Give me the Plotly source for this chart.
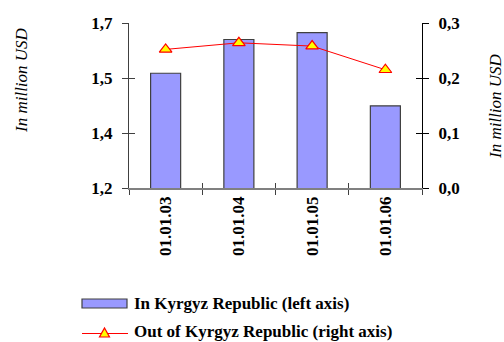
import plotly.graph_objects as go

# Data
dates = ["01.01.03", "01.01.04", "01.01.05", "01.01.06"]
in_kyrgyz = [1.513, 1.605, 1.624, 1.424]      # left axis, million USD
out_kyrgyz = [0.252, 0.264, 0.258, 0.215]     # right axis, million USD

left_ticks = [1.2, 1.35, 1.5, 1.65]
left_ticktext = ["1,2", "1,4", "1,5", "1,7"]
right_ticks = [0.0, 0.1, 0.2, 0.3]
right_ticktext = ["0,0", "0,1", "0,2", "0,3"]

W, H = 504, 342
L, R, T, B = 129, 82, 23, 154
PW, PH = W - L - R, H - T - B

FONT = "Liberation Serif"
FS = 17
BOLD = dict(family=FONT, size=FS, color="black", weight="bold")
BAR_COLOR = "#9999FF"
EDGE = "#404040"


def px(x):
    return (x - L) / PW


def py(y):
    return (H - B - y) / PH


fig = go.Figure()

fig.add_trace(go.Bar(
    x=dates, y=in_kyrgyz, name="In Kyrgyz Republic (left axis)",
    marker=dict(color=BAR_COLOR, line=dict(color=EDGE, width=1.2)),
    width=0.41, yaxis="y", xaxis="x",
))
fig.add_trace(go.Scatter(
    x=dates, y=out_kyrgyz, name="Out of Kyrgyz Republic (right axis)",
    mode="lines+markers", yaxis="y2", xaxis="x",
    line=dict(color="#FF0000", width=1),
    marker=dict(symbol="triangle-up", size=11, color="#FFFF00",
                line=dict(color="#FF0000", width=1.2)),
))

# invisible carriers for the tick-only overlay axes
fig.add_trace(go.Scatter(x=[0], y=[1.2], xaxis="x2", yaxis="y3",
                         mode="markers", marker=dict(opacity=0), hoverinfo="skip"))
fig.add_trace(go.Scatter(x=[0], y=[0], xaxis="x2", yaxis="y4",
                         mode="markers", marker=dict(opacity=0), hoverinfo="skip"))

fig.update_layout(
    width=W, height=H,
    margin=dict(l=L, r=R, t=T, b=B),
    paper_bgcolor="white", plot_bgcolor="white",
    showlegend=False,
    font=dict(family=FONT, size=FS, color="black"),
    xaxis=dict(
        type="category", categoryorder="array", categoryarray=dates,
        range=[-0.5, 3.5], tickson="boundaries",
        ticks="outside", ticklen=5, tickcolor=EDGE, tickwidth=1,
        showline=True, linecolor="#808080", linewidth=1.5,
        tickangle=-90, tickfont=BOLD, showgrid=False, zeroline=False,
    ),
    xaxis2=dict(
        overlaying="x", range=[-0.5, 3.5], tickmode="array",
        tickvals=[-0.5, 0.5, 1.5, 2.5, 3.5], ticks="inside", ticklen=5,
        tickcolor=EDGE, tickwidth=1, showticklabels=False,
        showgrid=False, zeroline=False, showline=False, anchor="y3",
    ),
    yaxis=dict(
        range=[1.2, 1.65], tickmode="array", tickvals=left_ticks,
        ticktext=left_ticktext, tickfont=BOLD, ticklabelstandoff=6,
        ticks="outside", ticklen=6, tickcolor=EDGE, tickwidth=1,
        showline=True, linecolor=EDGE, linewidth=1.2,
        showgrid=False, zeroline=False,
    ),
    yaxis2=dict(
        range=[0, 0.3], overlaying="y", side="right",
        tickmode="array", tickvals=right_ticks, ticktext=right_ticktext,
        tickfont=BOLD, ticklabelstandoff=6, ticks="outside", ticklen=6,
        tickcolor="black", tickwidth=1, showline=True, linecolor="black",
        linewidth=1.2, showgrid=False, zeroline=False,
    ),
    yaxis3=dict(
        range=[1.2, 1.65], overlaying="y", side="left", tickmode="array",
        tickvals=left_ticks, ticks="inside", ticklen=6, tickcolor=EDGE,
        showticklabels=False, showgrid=False, zeroline=False, showline=False,
    ),
    yaxis4=dict(
        range=[0, 0.3], overlaying="y", side="right", tickmode="array",
        tickvals=right_ticks, ticks="inside", ticklen=6, tickcolor="black",
        showticklabels=False, showgrid=False, zeroline=False, showline=False,
    ),
)

ITAL = dict(family=FONT, size=FS, color="black", style="italic")
annotations = [
    dict(text="In million USD", textangle=-90, font=ITAL, showarrow=False,
         xref="paper", yref="paper", x=px(21), y=py(80),
         xanchor="center", yanchor="middle"),
    dict(text="In million USD", textangle=-90, font=ITAL, showarrow=False,
         xref="paper", yref="paper", x=px(495), y=py(106),
         xanchor="center", yanchor="middle"),
    dict(text="In Kyrgyz Republic (left axis)", font=BOLD, showarrow=False,
         xref="paper", yref="paper", x=px(132), y=py(303),
         xanchor="left", yanchor="middle"),
    dict(text="Out of Kyrgyz Republic (right axis)", font=BOLD, showarrow=False,
         xref="paper", yref="paper", x=px(132), y=py(331),
         xanchor="left", yanchor="middle"),
]

# legend swatches
tx, ty = px(104.5), py(333)
shapes = [
    dict(type="rect", xref="paper", yref="paper",
         x0=px(82), x1=px(127), y0=py(308), y1=py(299),
         fillcolor=BAR_COLOR, line=dict(color=EDGE, width=1.2)),
    dict(type="line", xref="paper", yref="paper",
         x0=px(82), x1=px(128), y0=py(333.5), y1=py(333.5),
         line=dict(color="#FF0000", width=1)),
    dict(type="path", xref="paper", yref="paper", xsizemode="pixel",
         ysizemode="pixel", xanchor=tx, yanchor=ty,
         path="M -5,-4 L 5,-4 L 0,5 Z",
         fillcolor="#FFFF00", line=dict(color="#FF0000", width=1.2)),
]

fig.update_layout(annotations=annotations, shapes=shapes)

fig.write_html("out.html")
